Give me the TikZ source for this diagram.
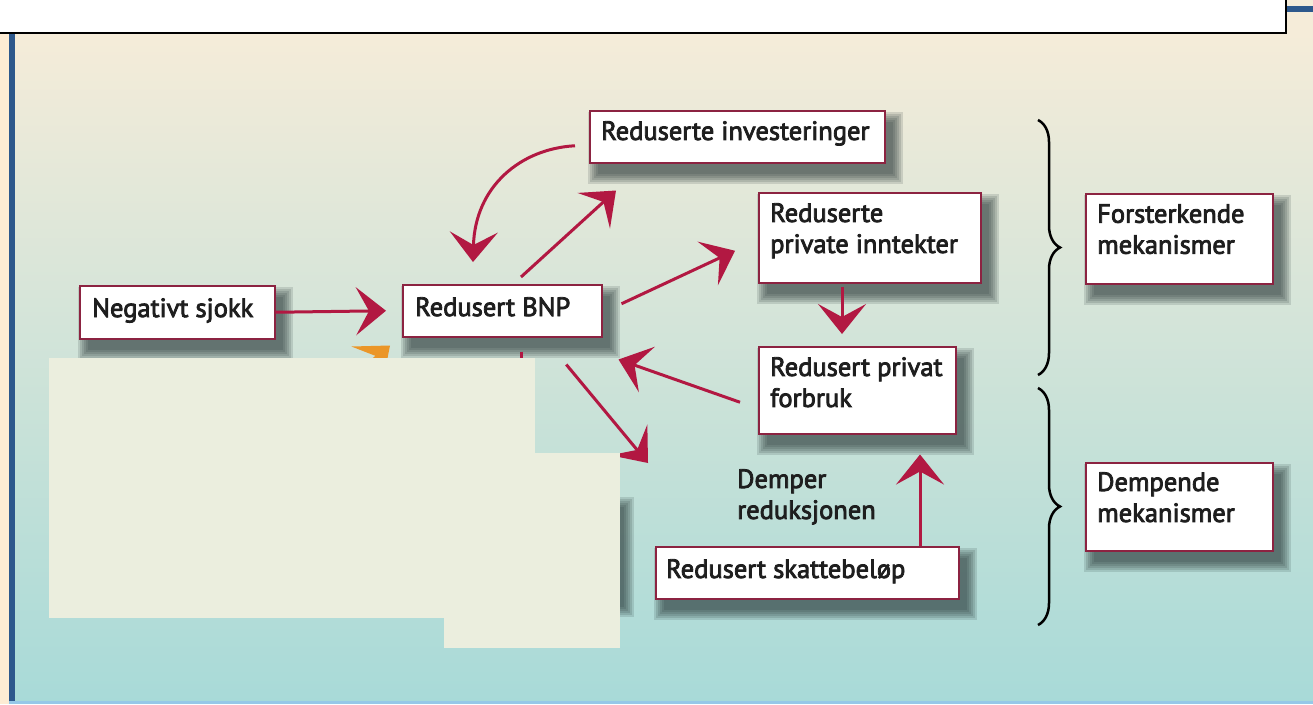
\documentclass[tikz,border=0pt]{standalone}
\usepackage{fontspec}
\setmainfont{PT Sans}[FakeBold=3]
\usetikzlibrary{arrows.meta,decorations.pathreplacing,calc}
\definecolor{arrowred}{RGB}{178,24,66}
\definecolor{boxedge}{RGB}{140,35,65}
\definecolor{txt}{RGB}{30,30,30}
\definecolor{patch}{RGB}{235,238,222}
\definecolor{bgtop}{RGB}{245,236,217}
\definecolor{bgmid}{RGB}{214,230,218}
\definecolor{bgbot}{RGB}{168,218,216}
\definecolor{frameblue}{RGB}{45,88,140}
\definecolor{peach}{RGB}{253,236,212}
\definecolor{orangearr}{RGB}{235,150,40}
\definecolor{edgeblue}{RGB}{150,200,232}
\definecolor{shc}{RGB}{35,50,50}
\pgfdeclarelayer{background}
\pgfsetlayers{background,main}
\begin{document}
\begin{tikzpicture}[x=1pt,y=-1pt,
  box/.style={draw=boxedge, line width=1.5pt, fill=white, rectangle, inner sep=0pt, anchor=north west},
  shadowpart/.style={fill=shc, opacity=0.15},
  lbl/.style={anchor=north west, inner sep=0pt, align=left, text=txt, font=\fontsize{26.5}{31}\selectfont},
  arr/.style={draw=arrowred, line width=3pt, -{Stealth[length=30pt,width=48pt,inset=13pt]}},
  oarr/.style={draw=orangearr, line width=3pt, -{Stealth[length=30pt,width=48pt,inset=13pt]}},
  brc/.style={draw=black, line width=2.5pt, decorate, decoration={brace, amplitude=22pt}}
]
\useasboundingbox (0,0) rectangle (1313,704);

% boxes
\node[box, minimum width=195pt, minimum height=53pt] (neg) at (79,285) {};
\node[box, minimum width=199pt, minimum height=52pt] (bnp) at (402,284) {};
\node[box, minimum width=295pt, minimum height=52pt] (inv) at (589,110) {};
\node[box, minimum width=222pt, minimum height=90pt] (inn) at (758,192) {};
\node[box, minimum width=197pt, minimum height=87pt] (forb) at (758,346) {};
\node[box, minimum width=303pt, minimum height=52pt] (skatt) at (655,546) {};
\node[box, minimum width=187pt, minimum height=90pt] (forst) at (1085,193) {};
\node[box, minimum width=187pt, minimum height=88pt] (demp) at (1085,462) {};
\node[box, minimum width=165pt, minimum height=100pt] (hidbox) at (450,495) {};

\begin{pgfonlayer}{background}
% background and frame
\shade[top color=bgtop, middle color=bgmid, bottom color=bgbot] (15,33) rectangle (1313,702);
\fill[bgtop] (1286,0) rectangle (1313,33);
\fill[peach] (0,33) rectangle (9,704);
\fill[frameblue] (9,33) rectangle (15,704);
\fill[edgeblue] (9,701) rectangle (1313,704);
\fill[white] (0,0) rectangle (1286,33);
\draw[black, line width=2pt] (0,33) -- (1286,33) -- (1286,0);
\fill[frameblue] (1287,6) rectangle (1313,12);
% blurred drop shadows
\foreach \n in {neg,bnp,inv,inn,forb,skatt,forst,demp,hidbox}{
  \foreach \r in {10,8,6,4,2,0}{
    \fill[shadowpart] ($(\n.north west)+(9-\r,12-\r)$) rectangle ($(\n.south east)+(7+\r,10+\r)$);
  }
}
\end{pgfonlayer}

% labels
\node[lbl] (negt) at ($(neg.north west)+(13,13)$) {Negativt sjokk};
\node[lbl] (bnpt) at ($(bnp.north west)+(13,13)$) {Redusert BNP};
\node[lbl] (invt) at ($(inv.north west)+(12,11)$) {Reduserte investeringer};
\node[lbl] (innt) at ($(inn.north west)+(12,11)$) {Reduserte\\private inntekter};
\node[lbl] (forbt) at ($(forb.north west)+(12,11)$) {Redusert privat\\forbruk};
\node[lbl] (skattt) at ($(skatt.north west)+(11,13)$) {Redusert skattebeløp};
\node[lbl] (forstt) at ($(forst.north west)+(12,11)$) {Forsterkende\\mekanismer};
\node[lbl] (dempt) at ($(demp.north west)+(12,10)$) {Dempende\\mekanismer};
\node[lbl] (demper) at (737,469) {Demper\\reduksjonen};

% connectors
\coordinate (hid) at (648,463);
\coordinate (ostart) at (290,430);
\draw[arr] (neg.east) -- ($(bnp.west)+(-16,0)$);
\draw[arr] ($(bnp.north west)+(119,-7)$) -- ($(inv.south west)+(27,27)$);
\draw[arr] ($(inv.west)+(-14,9)$) .. controls +(-55,3) and +(2,-75) .. ($(bnp.north west)+(71,-22)$);
\draw[arr] ($(bnp.east)+(19,-7)$) -- ($(inn.west)+(-23,13)$);
\draw[arr] ($(inn.south west)+(84,3)$) -- ($(forb.north west)+(84,-12)$);
\draw[arr] ($(forb.west)+(-18,12)$) -- ($(bnp.south east)+(16,22)$);
\draw[arr] ($(bnp.south)+(64,27)$) -- (hid);
\draw[arr] ($(skatt.north west)+(265,0)$) -- ($(forb.south west)+(162,20)$);
\draw[arrowred, line width=3pt] ($(bnp.south west)+(119,14)$) -- ++(0,60);
\draw[oarr] (ostart) -- ($(bnp.south west)+(-12,8)$);

% braces
\draw[brc] (1038,120) -- (1038,375);
\draw[brc] (1038,388) -- (1038,625);

% covering patches
\fill[patch] (49,358) rectangle (535,618);
\fill[patch] (444,453) rectangle (620,648);
\end{tikzpicture}
\end{document}
